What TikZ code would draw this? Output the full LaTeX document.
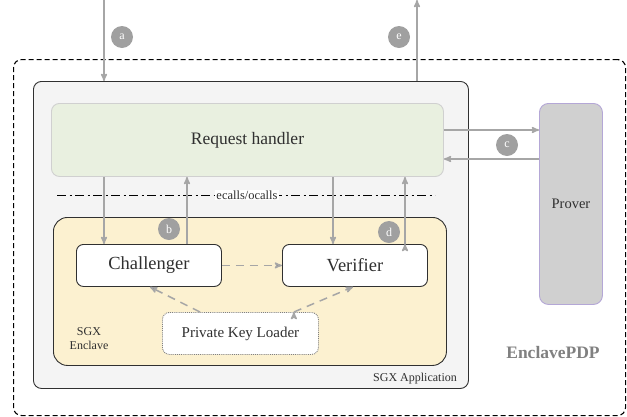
\documentclass[tikz,border=0pt]{standalone}
\usepackage{fontspec}
\setmainfont{Liberation Serif}
\usetikzlibrary{positioning}
\usetikzlibrary{arrows}
\usetikzlibrary{backgrounds}

\definecolor{appfill}{HTML}{F4F4F4}
\definecolor{handlerfill}{HTML}{E9F0E0}
\definecolor{enclavefill}{HTML}{FCF1D0}
\definecolor{proverfill}{HTML}{D0D0D0}
\definecolor{proverline}{HTML}{B4A7D6}
\definecolor{flowgray}{HTML}{A6A6A6}
\definecolor{taggray}{HTML}{A0A0A0}
\definecolor{ink}{HTML}{303030}

\begin{document}
\begin{tikzpicture}[>=stealth',x=1pt,y=-1pt,
	box/.style={rectangle,anchor=north west,inner sep=0pt,text=ink},
	main node/.style={box,rounded corners=7pt,fill=white,draw=ink,line width=0.9pt,
		font=\fontsize{18.5}{18.5}\selectfont},
	flow/.style={->,draw=flowgray,line width=1.5pt},
	hint/.style={->,draw=flowgray,line width=1.5pt,dash pattern=on 8pt off 6pt},
	tag/.style={circle,fill=taggray,text=white,inner sep=0pt,minimum size=22pt,
		font=\fontsize{12}{12}\selectfont}]

	\useasboundingbox (0,0) rectangle (627,416);

	\node[box, draw=black, line width=1.1pt, dash pattern=on 5pt off 3pt, rounded corners=8pt,
		minimum width=612pt, minimum height=356pt] (pdp) at (13,59) {};
	\node[box, fill=appfill, draw=ink, line width=0.9pt, rounded corners=8pt,
		minimum width=435pt, minimum height=307pt] (app) at (33,81) {};
	\node[box, fill=handlerfill, draw=proverfill, line width=0.9pt, rounded corners=8pt,
		minimum width=392pt, minimum height=73pt, font=\fontsize{17.5}{17.5}\selectfont]
		(handler) at (51,103) {Request handler};
	\node[box, fill=enclavefill, draw=ink, line width=0.9pt, rounded corners=14pt,
		minimum width=393pt, minimum height=148pt] (enclave) at (53,217) {};
	\node[main node, minimum width=145pt, minimum height=42pt] (chal) at (76,244) {Challenger};
	\node[main node, minimum width=145pt, minimum height=42pt] (ver) at (282,244) {Verifier};
	\node[box, fill=white, draw=gray, densely dotted, line width=0.9pt, rounded corners=7pt,
		minimum width=156pt, minimum height=42pt, font=\fontsize{15}{15}\selectfont]
		(pkl) at (162,312) {Private Key Loader};
	\node[box, fill=proverfill, draw=proverline, line width=0.9pt, rounded corners=9pt,
		minimum width=63pt, minimum height=201pt, font=\fontsize{14.5}{14.5}\selectfont]
		(prover) at (539,103) {Prover};

	\node[text=ink, align=center, font=\fontsize{12}{14}\selectfont] (enclave label) at (89,339) {SGX\\Enclave};
	\node[text=ink, font=\fontsize{12}{12}\selectfont] (app label) at (415,379) {SGX Application};
	\node[text=gray, font=\fontsize{17.5}{17.5}\selectfont\bfseries] (pdp label) at (553,353) {EnclavePDP};

	% trust boundary between application and enclave
	\coordinate (cut west) at (57,195);
	\coordinate (cut east) at (435,195);
	\draw[black, line width=0.8pt, dash pattern=on 9pt off 3.5pt on 2pt off 3.5pt] (cut west) -- (cut east);
	\node[fill=white, text=ink, inner sep=1pt, font=\fontsize{12.5}{12.5}\selectfont] (cut label) at (247,195) {ecalls/ocalls};

	% requests in and out
	\coordinate (a in) at (104,0);
	\coordinate (e out) at (417,0);
	\coordinate (b up) at (187,0);
	\coordinate (d down) at (333,0);
	\coordinate (d up) at (405,0);
	\coordinate (c to) at (0,130);
	\coordinate (c back) at (0,159);

	\path[flow]
	(a in) edge (app.north -| a in)
	(app.north -| e out) edge (e out)
	(handler.east |- c to) edge (prover.west |- c to)
	(prover.west |- c back) edge (handler.east |- c back)
	(handler.south -| a in) edge (chal.north -| a in)
	(chal.north -| b up) edge (handler.south -| b up)
	(handler.south -| d down) edge (ver.north -| d down)
	(ver.north -| d up) edge (handler.south -| d up);

	\path[hint]
	(chal) edge (ver)
	([xshift=38pt]pkl.north west) edge ([xshift=74pt]chal.south west)
	([xshift=-25pt]pkl.north east) edge ([xshift=71pt]ver.south west);

	\node[tag] (a) at (122,37) {a};
	\node[tag] (b) at (169,229) {b};
	\node[tag] (c) at (507,145) {c};
	\node[tag] (d) at (389,232) {d};
	\node[tag] (e) at (399,37) {e};
\end{tikzpicture}
\end{document}
